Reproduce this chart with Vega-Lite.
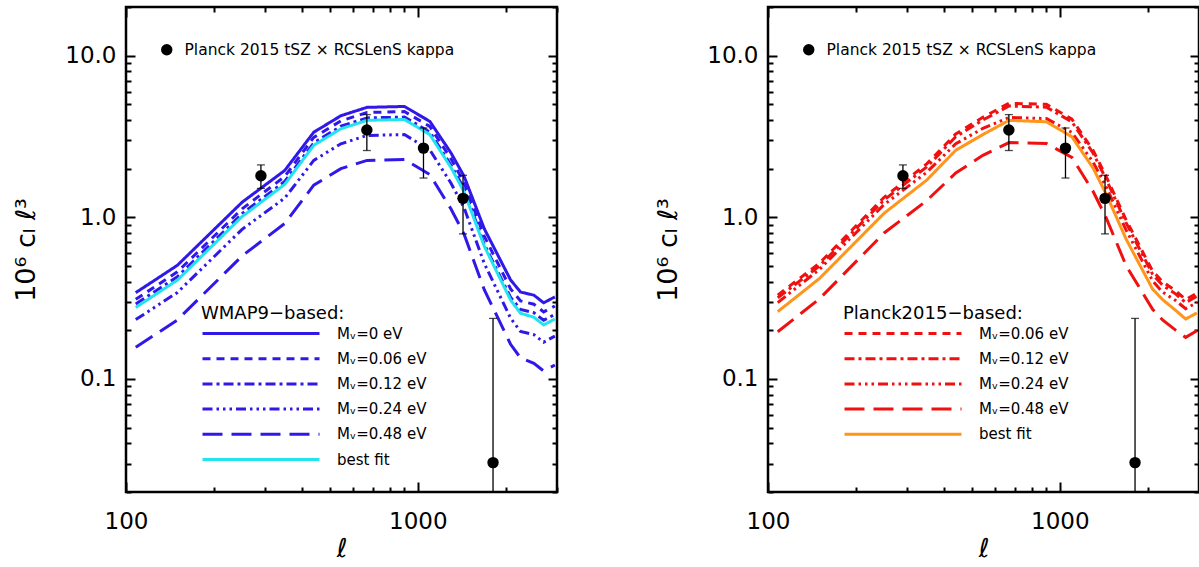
{
  "$schema": "https://vega.github.io/schema/vega-lite/v6.json",
  "autosize": {"type": "pad"},
  "padding": {"left": 11, "top": -6, "right": 0, "bottom": 0},
  "background": "white",
  "config": {
    "view": {"stroke": "black", "strokeWidth": 2.5},
    "font": "DejaVu Sans",
    "axis": {"domain": false, "grid": false, "tickColor": "black", "tickWidth": 2, "labelFont": "DejaVu Sans", "labelFontSize": 23, "labelColor": "black", "titleFont": "DejaVu Sans", "titleColor": "black", "titleFontWeight": "normal", "labelOverlap": false, "labelFlush": false, "labelBound": false},
    "legend": {"labelFont": "DejaVu Sans", "titleFont": "DejaVu Sans", "labelColor": "black", "titleColor": "black", "titleFontWeight": "normal", "labelLimit": 500, "titleLimit": 500}
  },
  "resolve": {
    "scale": {"stroke": "independent", "strokeDash": "independent", "fill": "independent"},
    "legend": {"stroke": "independent", "strokeDash": "independent", "fill": "independent"}
  },
  "datasets": {
    "curves": [
      {"panel":"W","model":"Mᵥ=0 eV","ell":108,"cl":0.342},{"panel":"W","model":"Mᵥ=0 eV","ell":150,"cl":0.505},{"panel":"W","model":"Mᵥ=0 eV","ell":250,"cl":1.24},{"panel":"W","model":"Mᵥ=0 eV","ell":350,"cl":1.95},{"panel":"W","model":"Mᵥ=0 eV","ell":440,"cl":3.36},{"panel":"W","model":"Mᵥ=0 eV","ell":545,"cl":4.25},{"panel":"W","model":"Mᵥ=0 eV","ell":670,"cl":4.79},{"panel":"W","model":"Mᵥ=0 eV","ell":900,"cl":4.85},{"panel":"W","model":"Mᵥ=0 eV","ell":1100,"cl":3.92},{"panel":"W","model":"Mᵥ=0 eV","ell":1300,"cl":2.50},{"panel":"W","model":"Mᵥ=0 eV","ell":1440,"cl":1.80},{"panel":"W","model":"Mᵥ=0 eV","ell":1690,"cl":0.85},{"panel":"W","model":"Mᵥ=0 eV","ell":2080,"cl":0.41},{"panel":"W","model":"Mᵥ=0 eV","ell":2250,"cl":0.345},{"panel":"W","model":"Mᵥ=0 eV","ell":2500,"cl":0.33},{"panel":"W","model":"Mᵥ=0 eV","ell":2700,"cl":0.296},{"panel":"W","model":"Mᵥ=0 eV","ell":2950,"cl":0.322},
      {"panel":"W","model":"Mᵥ=0.06 eV","ell":108,"cl":0.311},{"panel":"W","model":"Mᵥ=0.06 eV","ell":150,"cl":0.460},{"panel":"W","model":"Mᵥ=0.06 eV","ell":250,"cl":1.128},{"panel":"W","model":"Mᵥ=0.06 eV","ell":350,"cl":1.79},{"panel":"W","model":"Mᵥ=0.06 eV","ell":440,"cl":3.12},{"panel":"W","model":"Mᵥ=0.06 eV","ell":545,"cl":3.95},{"panel":"W","model":"Mᵥ=0.06 eV","ell":670,"cl":4.45},{"panel":"W","model":"Mᵥ=0.06 eV","ell":900,"cl":4.51},{"panel":"W","model":"Mᵥ=0.06 eV","ell":1100,"cl":3.65},{"panel":"W","model":"Mᵥ=0.06 eV","ell":1300,"cl":2.30},{"panel":"W","model":"Mᵥ=0.06 eV","ell":1440,"cl":1.64},{"panel":"W","model":"Mᵥ=0.06 eV","ell":1690,"cl":0.765},{"panel":"W","model":"Mᵥ=0.06 eV","ell":2080,"cl":0.361},{"panel":"W","model":"Mᵥ=0.06 eV","ell":2250,"cl":0.304},{"panel":"W","model":"Mᵥ=0.06 eV","ell":2500,"cl":0.290},{"panel":"W","model":"Mᵥ=0.06 eV","ell":2700,"cl":0.260},{"panel":"W","model":"Mᵥ=0.06 eV","ell":2950,"cl":0.283},
      {"panel":"W","model":"Mᵥ=0.12 eV","ell":108,"cl":0.291},{"panel":"W","model":"Mᵥ=0.12 eV","ell":150,"cl":0.429},{"panel":"W","model":"Mᵥ=0.12 eV","ell":250,"cl":1.054},{"panel":"W","model":"Mᵥ=0.12 eV","ell":350,"cl":1.667},{"panel":"W","model":"Mᵥ=0.12 eV","ell":440,"cl":2.89},{"panel":"W","model":"Mᵥ=0.12 eV","ell":545,"cl":3.66},{"panel":"W","model":"Mᵥ=0.12 eV","ell":670,"cl":4.12},{"panel":"W","model":"Mᵥ=0.12 eV","ell":900,"cl":4.17},{"panel":"W","model":"Mᵥ=0.12 eV","ell":1100,"cl":3.37},{"panel":"W","model":"Mᵥ=0.12 eV","ell":1300,"cl":2.10},{"panel":"W","model":"Mᵥ=0.12 eV","ell":1440,"cl":1.51},{"panel":"W","model":"Mᵥ=0.12 eV","ell":1690,"cl":0.68},{"panel":"W","model":"Mᵥ=0.12 eV","ell":2080,"cl":0.320},{"panel":"W","model":"Mᵥ=0.12 eV","ell":2250,"cl":0.269},{"panel":"W","model":"Mᵥ=0.12 eV","ell":2500,"cl":0.257},{"panel":"W","model":"Mᵥ=0.12 eV","ell":2700,"cl":0.231},{"panel":"W","model":"Mᵥ=0.12 eV","ell":2950,"cl":0.251},
      {"panel":"W","model":"Mᵥ=0.24 eV","ell":108,"cl":0.233},{"panel":"W","model":"Mᵥ=0.24 eV","ell":150,"cl":0.343},{"panel":"W","model":"Mᵥ=0.24 eV","ell":250,"cl":0.843},{"panel":"W","model":"Mᵥ=0.24 eV","ell":350,"cl":1.316},{"panel":"W","model":"Mᵥ=0.24 eV","ell":440,"cl":2.25},{"panel":"W","model":"Mᵥ=0.24 eV","ell":545,"cl":2.85},{"panel":"W","model":"Mᵥ=0.24 eV","ell":670,"cl":3.21},{"panel":"W","model":"Mᵥ=0.24 eV","ell":900,"cl":3.25},{"panel":"W","model":"Mᵥ=0.24 eV","ell":1100,"cl":2.61},{"panel":"W","model":"Mᵥ=0.24 eV","ell":1300,"cl":1.625},{"panel":"W","model":"Mᵥ=0.24 eV","ell":1440,"cl":1.15},{"panel":"W","model":"Mᵥ=0.24 eV","ell":1690,"cl":0.519},{"panel":"W","model":"Mᵥ=0.24 eV","ell":2080,"cl":0.238},{"panel":"W","model":"Mᵥ=0.24 eV","ell":2250,"cl":0.197},{"panel":"W","model":"Mᵥ=0.24 eV","ell":2500,"cl":0.188},{"panel":"W","model":"Mᵥ=0.24 eV","ell":2700,"cl":0.169},{"panel":"W","model":"Mᵥ=0.24 eV","ell":2950,"cl":0.184},
      {"panel":"W","model":"Mᵥ=0.48 eV","ell":108,"cl":0.157},{"panel":"W","model":"Mᵥ=0.48 eV","ell":150,"cl":0.232},{"panel":"W","model":"Mᵥ=0.48 eV","ell":250,"cl":0.577},{"panel":"W","model":"Mᵥ=0.48 eV","ell":350,"cl":0.917},{"panel":"W","model":"Mᵥ=0.48 eV","ell":440,"cl":1.58},{"panel":"W","model":"Mᵥ=0.48 eV","ell":545,"cl":2.00},{"panel":"W","model":"Mᵥ=0.48 eV","ell":670,"cl":2.25},{"panel":"W","model":"Mᵥ=0.48 eV","ell":900,"cl":2.28},{"panel":"W","model":"Mᵥ=0.48 eV","ell":1100,"cl":1.84},{"panel":"W","model":"Mᵥ=0.48 eV","ell":1300,"cl":1.125},{"panel":"W","model":"Mᵥ=0.48 eV","ell":1440,"cl":0.79},{"panel":"W","model":"Mᵥ=0.48 eV","ell":1690,"cl":0.357},{"panel":"W","model":"Mᵥ=0.48 eV","ell":2080,"cl":0.164},{"panel":"W","model":"Mᵥ=0.48 eV","ell":2250,"cl":0.135},{"panel":"W","model":"Mᵥ=0.48 eV","ell":2500,"cl":0.125},{"panel":"W","model":"Mᵥ=0.48 eV","ell":2700,"cl":0.112},{"panel":"W","model":"Mᵥ=0.48 eV","ell":2950,"cl":0.122},
      {"panel":"W","model":"best fit","ell":108,"cl":0.277},{"panel":"W","model":"best fit","ell":150,"cl":0.409},{"panel":"W","model":"best fit","ell":250,"cl":1.011},{"panel":"W","model":"best fit","ell":350,"cl":1.60},{"panel":"W","model":"best fit","ell":440,"cl":2.79},{"panel":"W","model":"best fit","ell":545,"cl":3.53},{"panel":"W","model":"best fit","ell":670,"cl":3.98},{"panel":"W","model":"best fit","ell":900,"cl":4.03},{"panel":"W","model":"best fit","ell":1100,"cl":3.25},{"panel":"W","model":"best fit","ell":1300,"cl":2.03},{"panel":"W","model":"best fit","ell":1440,"cl":1.44},{"panel":"W","model":"best fit","ell":1690,"cl":0.663},{"panel":"W","model":"best fit","ell":2080,"cl":0.308},{"panel":"W","model":"best fit","ell":2250,"cl":0.255},{"panel":"W","model":"best fit","ell":2500,"cl":0.241},{"panel":"W","model":"best fit","ell":2700,"cl":0.216},{"panel":"W","model":"best fit","ell":2950,"cl":0.235},
      {"panel":"P","model":"Mᵥ=0.06 eV","ell":108,"cl":0.33},{"panel":"P","model":"Mᵥ=0.06 eV","ell":150,"cl":0.52},{"panel":"P","model":"Mᵥ=0.06 eV","ell":250,"cl":1.33},{"panel":"P","model":"Mᵥ=0.06 eV","ell":350,"cl":2.14},{"panel":"P","model":"Mᵥ=0.06 eV","ell":440,"cl":3.28},{"panel":"P","model":"Mᵥ=0.06 eV","ell":545,"cl":4.16},{"panel":"P","model":"Mᵥ=0.06 eV","ell":670,"cl":5.08},{"panel":"P","model":"Mᵥ=0.06 eV","ell":900,"cl":5.0},{"panel":"P","model":"Mᵥ=0.06 eV","ell":1100,"cl":4.05},{"panel":"P","model":"Mᵥ=0.06 eV","ell":1300,"cl":2.6},{"panel":"P","model":"Mᵥ=0.06 eV","ell":1440,"cl":1.8},{"panel":"P","model":"Mᵥ=0.06 eV","ell":1690,"cl":0.96},{"panel":"P","model":"Mᵥ=0.06 eV","ell":2080,"cl":0.465},{"panel":"P","model":"Mᵥ=0.06 eV","ell":2250,"cl":0.40},{"panel":"P","model":"Mᵥ=0.06 eV","ell":2500,"cl":0.35},{"panel":"P","model":"Mᵥ=0.06 eV","ell":2700,"cl":0.31},{"panel":"P","model":"Mᵥ=0.06 eV","ell":2950,"cl":0.34},
      {"panel":"P","model":"Mᵥ=0.12 eV","ell":108,"cl":0.318},{"panel":"P","model":"Mᵥ=0.12 eV","ell":150,"cl":0.50},{"panel":"P","model":"Mᵥ=0.12 eV","ell":250,"cl":1.28},{"panel":"P","model":"Mᵥ=0.12 eV","ell":350,"cl":2.05},{"panel":"P","model":"Mᵥ=0.12 eV","ell":440,"cl":3.15},{"panel":"P","model":"Mᵥ=0.12 eV","ell":545,"cl":4.0},{"panel":"P","model":"Mᵥ=0.12 eV","ell":670,"cl":4.88},{"panel":"P","model":"Mᵥ=0.12 eV","ell":900,"cl":4.8},{"panel":"P","model":"Mᵥ=0.12 eV","ell":1100,"cl":3.9},{"panel":"P","model":"Mᵥ=0.12 eV","ell":1300,"cl":2.5},{"panel":"P","model":"Mᵥ=0.12 eV","ell":1440,"cl":1.73},{"panel":"P","model":"Mᵥ=0.12 eV","ell":1690,"cl":0.92},{"panel":"P","model":"Mᵥ=0.12 eV","ell":2080,"cl":0.445},{"panel":"P","model":"Mᵥ=0.12 eV","ell":2250,"cl":0.38},{"panel":"P","model":"Mᵥ=0.12 eV","ell":2500,"cl":0.335},{"panel":"P","model":"Mᵥ=0.12 eV","ell":2700,"cl":0.297},{"panel":"P","model":"Mᵥ=0.12 eV","ell":2950,"cl":0.325},
      {"panel":"P","model":"Mᵥ=0.24 eV","ell":108,"cl":0.297},{"panel":"P","model":"Mᵥ=0.24 eV","ell":150,"cl":0.476},{"panel":"P","model":"Mᵥ=0.24 eV","ell":250,"cl":1.20},{"panel":"P","model":"Mᵥ=0.24 eV","ell":350,"cl":1.90},{"panel":"P","model":"Mᵥ=0.24 eV","ell":440,"cl":2.85},{"panel":"P","model":"Mᵥ=0.24 eV","ell":545,"cl":3.55},{"panel":"P","model":"Mᵥ=0.24 eV","ell":670,"cl":4.15},{"panel":"P","model":"Mᵥ=0.24 eV","ell":900,"cl":4.08},{"panel":"P","model":"Mᵥ=0.24 eV","ell":1100,"cl":3.35},{"panel":"P","model":"Mᵥ=0.24 eV","ell":1300,"cl":2.2},{"panel":"P","model":"Mᵥ=0.24 eV","ell":1440,"cl":1.55},{"panel":"P","model":"Mᵥ=0.24 eV","ell":1690,"cl":0.83},{"panel":"P","model":"Mᵥ=0.24 eV","ell":2080,"cl":0.405},{"panel":"P","model":"Mᵥ=0.24 eV","ell":2250,"cl":0.345},{"panel":"P","model":"Mᵥ=0.24 eV","ell":2500,"cl":0.305},{"panel":"P","model":"Mᵥ=0.24 eV","ell":2700,"cl":0.272},{"panel":"P","model":"Mᵥ=0.24 eV","ell":2950,"cl":0.297},
      {"panel":"P","model":"Mᵥ=0.48 eV","ell":108,"cl":0.196},{"panel":"P","model":"Mᵥ=0.48 eV","ell":150,"cl":0.313},{"panel":"P","model":"Mᵥ=0.48 eV","ell":250,"cl":0.80},{"panel":"P","model":"Mᵥ=0.48 eV","ell":350,"cl":1.27},{"panel":"P","model":"Mᵥ=0.48 eV","ell":440,"cl":1.88},{"panel":"P","model":"Mᵥ=0.48 eV","ell":545,"cl":2.42},{"panel":"P","model":"Mᵥ=0.48 eV","ell":670,"cl":2.90},{"panel":"P","model":"Mᵥ=0.48 eV","ell":900,"cl":2.86},{"panel":"P","model":"Mᵥ=0.48 eV","ell":1100,"cl":2.35},{"panel":"P","model":"Mᵥ=0.48 eV","ell":1300,"cl":1.45},{"panel":"P","model":"Mᵥ=0.48 eV","ell":1440,"cl":1.0},{"panel":"P","model":"Mᵥ=0.48 eV","ell":1690,"cl":0.50},{"panel":"P","model":"Mᵥ=0.48 eV","ell":2080,"cl":0.27},{"panel":"P","model":"Mᵥ=0.48 eV","ell":2250,"cl":0.232},{"panel":"P","model":"Mᵥ=0.48 eV","ell":2500,"cl":0.20},{"panel":"P","model":"Mᵥ=0.48 eV","ell":2700,"cl":0.181},{"panel":"P","model":"Mᵥ=0.48 eV","ell":2950,"cl":0.199},
      {"panel":"P","model":"best fit","ell":108,"cl":0.261},{"panel":"P","model":"best fit","ell":150,"cl":0.418},{"panel":"P","model":"best fit","ell":250,"cl":1.06},{"panel":"P","model":"best fit","ell":350,"cl":1.70},{"panel":"P","model":"best fit","ell":440,"cl":2.60},{"panel":"P","model":"best fit","ell":545,"cl":3.25},{"panel":"P","model":"best fit","ell":670,"cl":3.98},{"panel":"P","model":"best fit","ell":900,"cl":3.90},{"panel":"P","model":"best fit","ell":1100,"cl":3.15},{"panel":"P","model":"best fit","ell":1300,"cl":2.02},{"panel":"P","model":"best fit","ell":1440,"cl":1.40},{"panel":"P","model":"best fit","ell":1690,"cl":0.73},{"panel":"P","model":"best fit","ell":2080,"cl":0.36},{"panel":"P","model":"best fit","ell":2250,"cl":0.31},{"panel":"P","model":"best fit","ell":2500,"cl":0.265},{"panel":"P","model":"best fit","ell":2700,"cl":0.235},{"panel":"P","model":"best fit","ell":2950,"cl":0.256}
    ],
    "points": [
      {"src":"Planck 2015 tSZ × RCSLenS kappa","ell":290,"cl":1.81,"hi":2.11,"lo":1.51},
      {"src":"Planck 2015 tSZ × RCSLenS kappa","ell":669,"cl":3.47,"hi":4.32,"lo":2.59},
      {"src":"Planck 2015 tSZ × RCSLenS kappa","ell":1046,"cl":2.68,"hi":3.57,"lo":1.75},
      {"src":"Planck 2015 tSZ × RCSLenS kappa","ell":1429,"cl":1.31,"hi":1.82,"lo":0.79},
      {"src":"Planck 2015 tSZ × RCSLenS kappa","ell":1811,"cl":0.0304,"hi":0.237,"lo":0.001}
    ]
  },
  "hconcat": [
    {
      "width": 431, "height": 485,
      "resolve": {"axis": {"x": "independent", "y": "independent"}},
      "layer": [
        {
          "data": {"name": "curves"},
          "transform": [{"filter": "datum.panel == 'W'"}],
          "mark": {"type": "line", "strokeWidth": 3, "clip": true},
          "encoding": {
            "x": {"field": "ell", "type": "quantitative", "scale": {"type": "log", "domain": [100, 3000], "nice": false},
              "axis": {"orient": "bottom", "values": [100,200,300,400,500,600,700,800,900,1000,2000,3000], "format": "d", "labelExpr": "(datum.value == 100 || datum.value == 1000) ? datum.label : ''", "tickSize": {"condition": {"test": "datum.value == 100 || datum.value == 1000", "value": -10}, "value": -5}, "labelFontSize": 23, "labelPadding": 28, "title": "ℓ", "titleFontSize": 26, "titleFontStyle": "italic", "titlePadding": -3}},
            "y": {"field": "cl", "type": "quantitative", "scale": {"type": "log", "domain": [0.02, 20], "nice": false},
              "axis": {"orient": "left", "values": [0.02,0.03,0.04,0.05,0.06,0.07,0.08,0.09,0.1,0.2,0.3,0.4,0.5,0.6,0.7,0.8,0.9,1,2,3,4,5,6,7,8,9,10,20], "format": ".1f", "labelExpr": "(datum.value == 0.1 || datum.value == 1 || datum.value == 10) ? datum.label : ''", "tickSize": {"condition": {"test": "datum.value == 0.1 || datum.value == 1 || datum.value == 10", "value": -9}, "value": -5}, "labelFontSize": 23, "labelPadding": 19, "title": "10⁶ cₗ ℓ³", "titleFontSize": 27, "titlePadding": 24}},
            "stroke": {"field": "model", "type": "nominal",
              "scale": {"domain": ["Mᵥ=0 eV","Mᵥ=0.06 eV","Mᵥ=0.12 eV","Mᵥ=0.24 eV","Mᵥ=0.48 eV","best fit"], "range": ["#3018e8","#3018e8","#3018e8","#3018e8","#3018e8","#22e4f0"]},
              "legend": {"orient": "none", "legendX": 75, "legendY": 298, "title": "WMAP9−based:", "titleFontSize": 18, "titlePadding": 0, "labelFontSize": 15, "symbolType": "stroke", "symbolSize": 13689, "symbolStrokeWidth": 3, "clipHeight": 21, "rowPadding": 4.2, "labelOffset": 16, "padding": 0}},
            "strokeDash": {"field": "model", "type": "nominal",
              "scale": {"domain": ["Mᵥ=0 eV","Mᵥ=0.06 eV","Mᵥ=0.12 eV","Mᵥ=0.24 eV","Mᵥ=0.48 eV","best fit"], "range": [[1,0],[8,6],[10,4,3,4],[10,4,2.5,4,2.5,4,2.5,4],[20,9],[1,0]]},
              "legend": {"orient": "none", "legendX": 75, "legendY": 298, "title": "WMAP9−based:", "titleFontSize": 18, "titlePadding": 0, "labelFontSize": 15, "symbolType": "stroke", "symbolSize": 13689, "symbolStrokeWidth": 3, "clipHeight": 21, "rowPadding": 4.2, "labelOffset": 16, "padding": 0}}
          }
        },
        {
          "data": {"name": "points"},
          "mark": {"type": "rule", "color": "black", "strokeWidth": 1.3, "clip": true},
          "encoding": {
            "x": {"field": "ell", "type": "quantitative", "scale": {"type": "log", "domain": [100, 3000], "nice": false},
              "axis": {"orient": "top", "values": [100,200,300,400,500,600,700,800,900,1000,2000,3000], "labels": false, "title": null, "tickSize": {"condition": {"test": "datum.value == 100 || datum.value == 1000", "value": -10}, "value": -5}}},
            "y": {"field": "lo", "type": "quantitative", "scale": {"type": "log", "domain": [0.02, 20], "nice": false},
              "axis": {"orient": "right", "values": [0.02,0.03,0.04,0.05,0.06,0.07,0.08,0.09,0.1,0.2,0.3,0.4,0.5,0.6,0.7,0.8,0.9,1,2,3,4,5,6,7,8,9,10,20], "labels": false, "title": null, "tickSize": {"condition": {"test": "datum.value == 0.1 || datum.value == 1 || datum.value == 10", "value": -9}, "value": -5}}},
            "y2": {"field": "hi"}
          }
        },
        {
          "data": {"name": "points"},
          "mark": {"type": "tick", "orient": "horizontal", "color": "black", "size": 8, "thickness": 1.3, "clip": true},
          "encoding": {
            "x": {"field": "ell", "type": "quantitative", "scale": {"type": "log", "domain": [100, 3000], "nice": false}, "axis": null},
            "y": {"field": "hi", "type": "quantitative", "scale": {"type": "log", "domain": [0.02, 20], "nice": false}, "axis": null}
          }
        },
        {
          "data": {"name": "points"},
          "mark": {"type": "tick", "orient": "horizontal", "color": "black", "size": 8, "thickness": 1.3, "clip": true},
          "encoding": {
            "x": {"field": "ell", "type": "quantitative", "scale": {"type": "log", "domain": [100, 3000], "nice": false}, "axis": null},
            "y": {"field": "lo", "type": "quantitative", "scale": {"type": "log", "domain": [0.02, 20], "nice": false}, "axis": null}
          }
        },
        {
          "data": {"name": "points"},
          "mark": {"type": "point", "filled": true, "size": 130, "opacity": 1},
          "encoding": {
            "x": {"field": "ell", "type": "quantitative", "scale": {"type": "log", "domain": [100, 3000], "nice": false}, "axis": null},
            "y": {"field": "cl", "type": "quantitative", "scale": {"type": "log", "domain": [0.02, 20], "nice": false}, "axis": null},
            "fill": {"field": "src", "type": "nominal", "scale": {"range": ["black"]},
              "legend": {"orient": "none", "legendX": 33, "legendY": 35, "title": null, "symbolType": "circle", "symbolSize": 130, "labelFontSize": 15.5, "labelOffset": 10, "padding": 0}}
          }
        }
      ]
    },
    {
      "width": 431, "height": 485,
      "resolve": {"axis": {"x": "independent", "y": "independent"}},
      "layer": [
        {
          "data": {"name": "curves"},
          "transform": [{"filter": "datum.panel == 'P'"}],
          "mark": {"type": "line", "strokeWidth": 3, "clip": true},
          "encoding": {
            "x": {"field": "ell", "type": "quantitative", "scale": {"type": "log", "domain": [100, 3000], "nice": false},
              "axis": {"orient": "bottom", "values": [100,200,300,400,500,600,700,800,900,1000,2000,3000], "format": "d", "labelExpr": "(datum.value == 100 || datum.value == 1000) ? datum.label : ''", "tickSize": {"condition": {"test": "datum.value == 100 || datum.value == 1000", "value": -10}, "value": -5}, "labelFontSize": 23, "labelPadding": 28, "title": "ℓ", "titleFontSize": 26, "titleFontStyle": "italic", "titlePadding": -3}},
            "y": {"field": "cl", "type": "quantitative", "scale": {"type": "log", "domain": [0.02, 20], "nice": false},
              "axis": {"orient": "left", "values": [0.02,0.03,0.04,0.05,0.06,0.07,0.08,0.09,0.1,0.2,0.3,0.4,0.5,0.6,0.7,0.8,0.9,1,2,3,4,5,6,7,8,9,10,20], "format": ".1f", "labelExpr": "(datum.value == 0.1 || datum.value == 1 || datum.value == 10) ? datum.label : ''", "tickSize": {"condition": {"test": "datum.value == 0.1 || datum.value == 1 || datum.value == 10", "value": -9}, "value": -5}, "labelFontSize": 23, "labelPadding": 19, "title": "10⁶ cₗ ℓ³", "titleFontSize": 27, "titlePadding": 24}},
            "stroke": {"field": "model", "type": "nominal",
              "scale": {"domain": ["Mᵥ=0.06 eV","Mᵥ=0.12 eV","Mᵥ=0.24 eV","Mᵥ=0.48 eV","best fit"], "range": ["#f01010","#f01010","#f01010","#f01010","#ff951a"]},
              "legend": {"orient": "none", "legendX": 75, "legendY": 298, "title": "Planck2015−based:", "titleFontSize": 18, "titlePadding": 0, "labelFontSize": 15, "symbolType": "stroke", "symbolSize": 13689, "symbolStrokeWidth": 3, "clipHeight": 21, "rowPadding": 4.2, "labelOffset": 16, "padding": 0}},
            "strokeDash": {"field": "model", "type": "nominal",
              "scale": {"domain": ["Mᵥ=0.06 eV","Mᵥ=0.12 eV","Mᵥ=0.24 eV","Mᵥ=0.48 eV","best fit"], "range": [[8,6],[10,4,3,4],[10,4,2.5,4,2.5,4,2.5,4],[20,9],[1,0]]},
              "legend": {"orient": "none", "legendX": 75, "legendY": 298, "title": "Planck2015−based:", "titleFontSize": 18, "titlePadding": 0, "labelFontSize": 15, "symbolType": "stroke", "symbolSize": 13689, "symbolStrokeWidth": 3, "clipHeight": 21, "rowPadding": 4.2, "labelOffset": 16, "padding": 0}}
          }
        },
        {
          "data": {"name": "points"},
          "mark": {"type": "rule", "color": "black", "strokeWidth": 1.3, "clip": true},
          "encoding": {
            "x": {"field": "ell", "type": "quantitative", "scale": {"type": "log", "domain": [100, 3000], "nice": false},
              "axis": {"orient": "top", "values": [100,200,300,400,500,600,700,800,900,1000,2000,3000], "labels": false, "title": null, "tickSize": {"condition": {"test": "datum.value == 100 || datum.value == 1000", "value": -10}, "value": -5}}},
            "y": {"field": "lo", "type": "quantitative", "scale": {"type": "log", "domain": [0.02, 20], "nice": false},
              "axis": {"orient": "right", "values": [0.02,0.03,0.04,0.05,0.06,0.07,0.08,0.09,0.1,0.2,0.3,0.4,0.5,0.6,0.7,0.8,0.9,1,2,3,4,5,6,7,8,9,10,20], "labels": false, "title": null, "tickSize": {"condition": {"test": "datum.value == 0.1 || datum.value == 1 || datum.value == 10", "value": -9}, "value": -5}}},
            "y2": {"field": "hi"}
          }
        },
        {
          "data": {"name": "points"},
          "mark": {"type": "tick", "orient": "horizontal", "color": "black", "size": 8, "thickness": 1.3, "clip": true},
          "encoding": {
            "x": {"field": "ell", "type": "quantitative", "scale": {"type": "log", "domain": [100, 3000], "nice": false}, "axis": null},
            "y": {"field": "hi", "type": "quantitative", "scale": {"type": "log", "domain": [0.02, 20], "nice": false}, "axis": null}
          }
        },
        {
          "data": {"name": "points"},
          "mark": {"type": "tick", "orient": "horizontal", "color": "black", "size": 8, "thickness": 1.3, "clip": true},
          "encoding": {
            "x": {"field": "ell", "type": "quantitative", "scale": {"type": "log", "domain": [100, 3000], "nice": false}, "axis": null},
            "y": {"field": "lo", "type": "quantitative", "scale": {"type": "log", "domain": [0.02, 20], "nice": false}, "axis": null}
          }
        },
        {
          "data": {"name": "points"},
          "mark": {"type": "point", "filled": true, "size": 130, "opacity": 1},
          "encoding": {
            "x": {"field": "ell", "type": "quantitative", "scale": {"type": "log", "domain": [100, 3000], "nice": false}, "axis": null},
            "y": {"field": "cl", "type": "quantitative", "scale": {"type": "log", "domain": [0.02, 20], "nice": false}, "axis": null},
            "fill": {"field": "src", "type": "nominal", "scale": {"range": ["black"]},
              "legend": {"orient": "none", "legendX": 33, "legendY": 35, "title": null, "symbolType": "circle", "symbolSize": 130, "labelFontSize": 15.5, "labelOffset": 10, "padding": 0}}
          }
        }
      ]
    }
  ],
  "spacing": 211,
  "bounds": "flush"
}
